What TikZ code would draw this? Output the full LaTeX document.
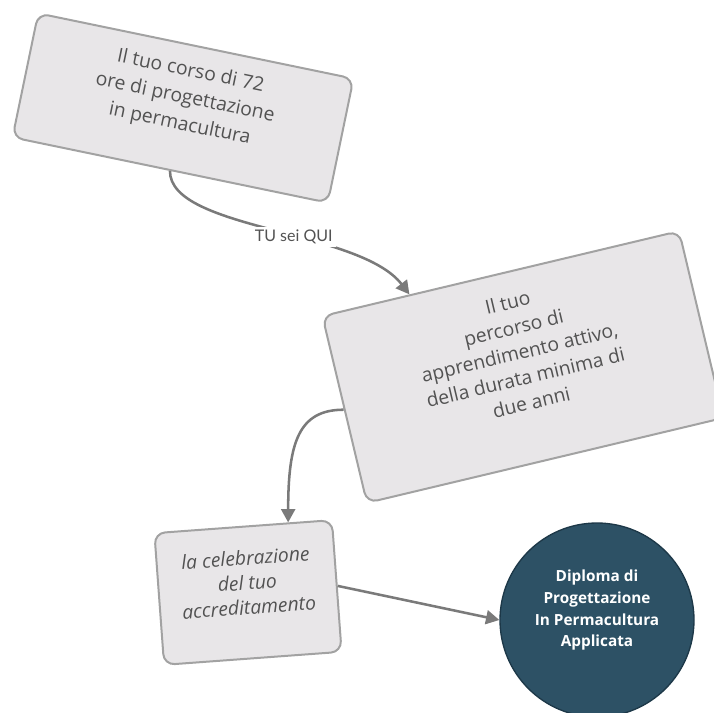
\documentclass[tikz,border=0pt]{standalone}
\usepackage{fontspec}
\setmainfont{Open Sans}
\newfontfamily\tagfont{Lato}
\usetikzlibrary{arrows.meta,calc}

\definecolor{cardfill}{HTML}{E8E6E8}
\definecolor{cardline}{HTML}{A2A2A2}
\definecolor{ink}{HTML}{525252}
\definecolor{flow}{HTML}{7A7A7A}
\definecolor{goalfill}{HTML}{2D5165}
\definecolor{goalline}{HTML}{1D3848}

\tikzset{
  card/.style={draw=cardline, line width=1.5pt, fill=cardfill, rounded corners=8pt, inner sep=0pt},
  cardtext/.style={text=ink, align=center, inner sep=0pt},
  flowline/.style={draw=flow, line width=1.9pt, -{Triangle[length=10pt,width=10.5pt]}},
  goalnode/.style={circle, fill=goalfill, draw=goalline, line width=1pt, minimum size=145.5pt, inner sep=0pt},
  goaltext/.style={text=white, align=center, inner sep=0pt, font=\bfseries\fontsize{11.5}{16.3}\selectfont},
  tag/.style={fill=white, text=ink, inner sep=2.5pt, font=\tagfont\fontsize{12}{14}\selectfont},
}

\begin{document}
\begin{tikzpicture}[x=0.75pt,y=-0.75pt]
\useasboundingbox (0,0) rectangle (714,713);

% cards
\node[card, minimum width=241.5pt, minimum height=95pt, rotate=-11.7] (b1) at (183,108) {};
\node[card, minimum width=275pt, minimum height=144pt, rotate=13.4] (b2) at (523,367) {};
\node[card, minimum width=133.5pt, minimum height=99pt, rotate=4.2] (b3) at (248,592.5) {};
\node[goalnode] (goal) at (597,620) {};

% text centres, a little above the middle of each shape
\coordinate (c1) at ($(b1.center)!0.157!(b1.north)$);
\coordinate (c2) at ($(b2.center)!0.156!(b2.north)$);
\coordinate (c3) at ($(b3.center)!0.15!(b3.north)$);
\coordinate (c4) at ($(goal.center)!0.1!(goal.north)$);

% texts, turned with their cards
\node[cardtext, rotate=-11.7, font=\fontsize{14.5}{20.2}\selectfont] (t1) at (c1)
  {Il tuo corso di 72\\ore di progettazione\\in permacultura};
\node[cardtext, rotate=13.4, font=\fontsize{14.5}{19.2}\selectfont] (t2) at (c2)
  {Il tuo\\percorso di\\apprendimento attivo,\\della durata minima di\\due anni};
\node[cardtext, rotate=4.2, font=\itshape\fontsize{14.5}{18.5}\selectfont] (t3) at (c3)
  {la celebrazione\\del tuo\\accreditamento};
\node[goaltext] (t4) at (c4)
  {Diploma di\\Progettazione\\In Permacultura\\Applicata};

% connectors
\draw[flowline] (b1.south) .. controls +(0,59) and +(-50,-65) .. (b2.134)
  node[tag, pos=0.57] (here) {TU sei QUI};
\draw[flowline] (b2.west) .. controls +(-45,0) and +(0,-80) .. (b3.56);
\draw[flowline] (b3.east) -- (goal.west);
\end{tikzpicture}
\end{document}
